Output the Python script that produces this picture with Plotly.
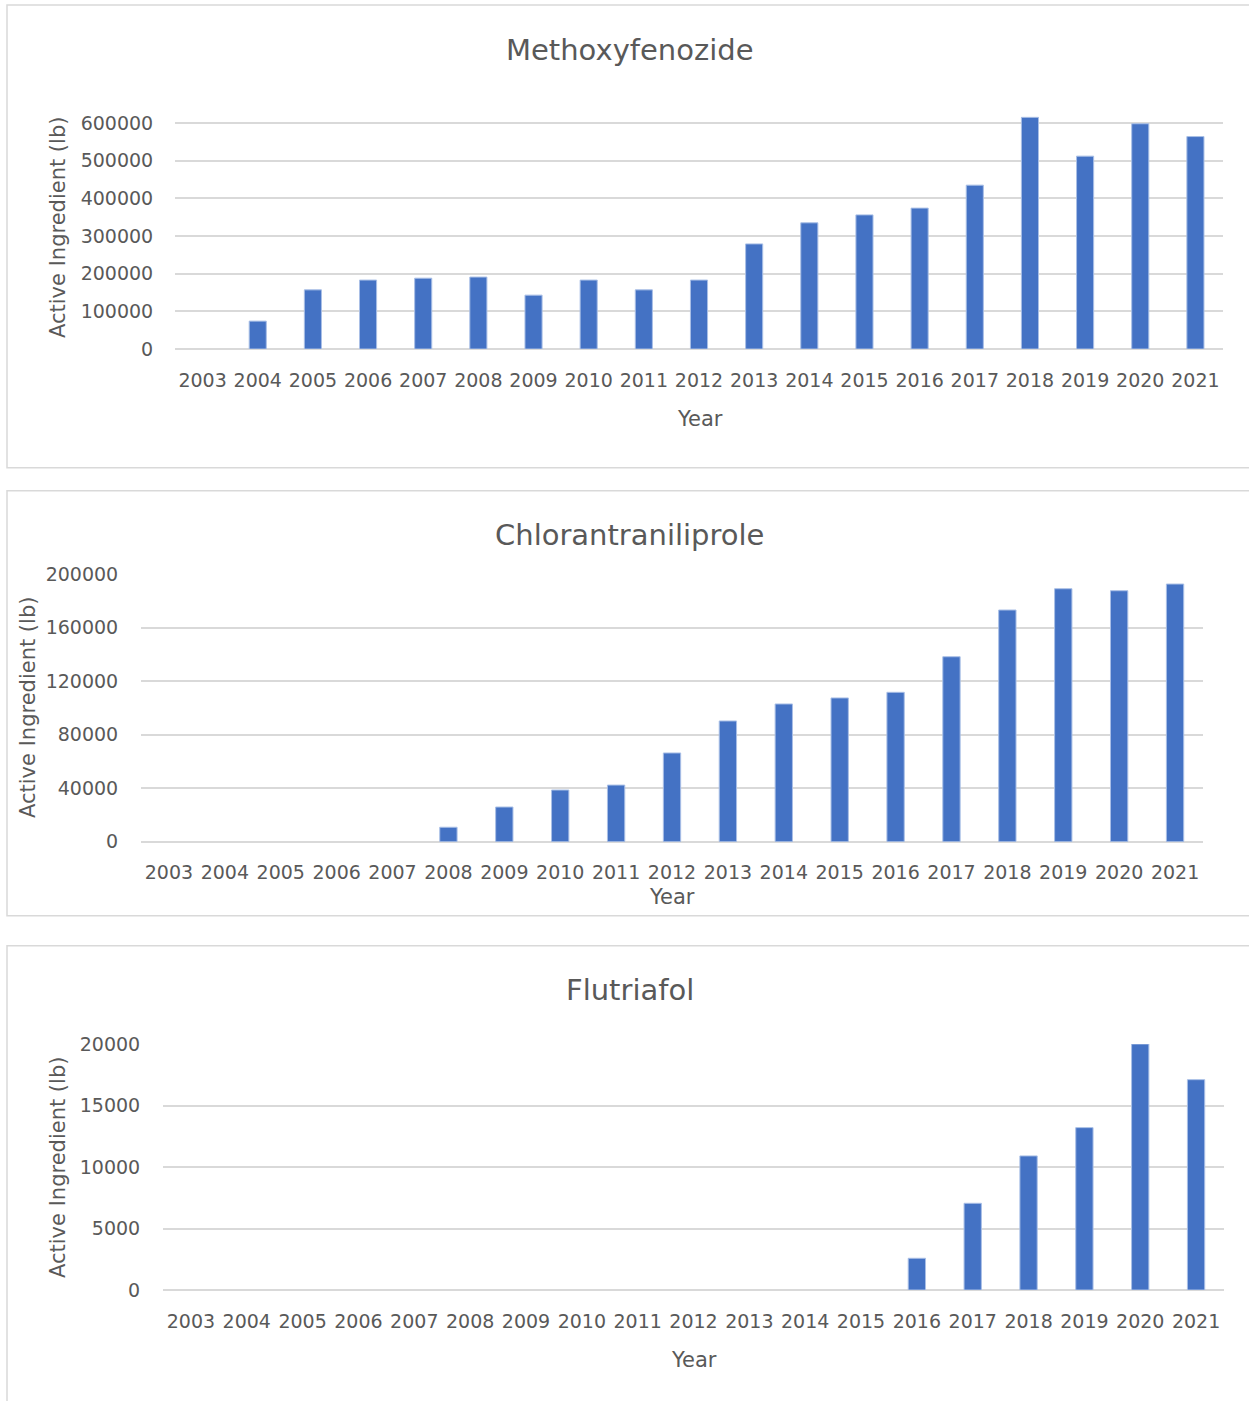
import plotly.graph_objects as go

W, H = 1249, 1401

years = [str(y) for y in range(2003, 2022)]

methoxyfenozide = [None, 74000, 157000, 183000, 188000, 191000, 143000, 183000, 157000,
                   183000, 279000, 335000, 356000, 374000, 435000, 615000, 512000, 598000, 564000]
chlorantraniliprole = [None, None, None, None, None, 10800, 25900, 38600, 42300, 66300,
                       90200, 102900, 107400, 111600, 138200, 173100, 189000, 187500, 192500]
flutriafol = [None, None, None, None, None, None, None, None, None, None, None, None, None,
              2580, 7050, 10900, 13200, 20000, 17100]

titles = ["Methoxyfenozide", "Chlorantraniliprole", "Flutriafol"]
y_title = "Active Ingredient (lb)"
x_title = "Year"

BAR = "#4472C4"
GRID = "#D9D9D9"
TXT = "#595959"
FONT = "'DejaVu Sans', sans-serif"


def px(x):
    return x / W


def py(y):
    return 1 - y / H


charts = [
    dict(vals=methoxyfenozide, x0=175, x1=1223, y0=349, yref=123, ref=600000, rmax=640000, dtick=100000,
         title_xy=(630, 50), ytitle_xy=(58, 228), xtitle_xy=(700, 419), ylen=17, xlen=14),
    dict(vals=chlorantraniliprole, x0=141, x1=1203, y0=841.7, yref=574, ref=200000, rmax=200000, dtick=40000,
         title_xy=(629, 535), ytitle_xy=(28, 708), xtitle_xy=(672, 897), ylen=18, xlen=13),
    dict(vals=flutriafol, x0=163, x1=1224, y0=1290, yref=1044, ref=20000, rmax=20000, dtick=5000,
         title_xy=(630, 990), ytitle_xy=(58, 1168), xtitle_xy=(694, 1360), ylen=18, xlen=14),
]

fig = go.Figure()
layout = dict(
    width=W, height=H, margin=dict(l=0, r=0, t=0, b=0, pad=0, autoexpand=False),
    paper_bgcolor="white", plot_bgcolor="white",
    showlegend=False, bargap=0.69,
    font=dict(family=FONT, color=TXT, size=19),
)
annotations = []
shapes = []

panels = [(5, 467.7), (490.7, 915.7), (945.7, 1420)]
for (t, b) in panels:
    shapes.append(dict(type="rect", xref="paper", yref="paper",
                       x0=px(7), x1=px(1260), y0=py(b), y1=py(t),
                       line=dict(color=GRID, width=1.5), fillcolor="rgba(0,0,0,0)", layer="below"))

for i, c in enumerate(charts, start=1):
    xa = "x" if i == 1 else f"x{i}"
    ya = "y" if i == 1 else f"y{i}"
    fig.add_trace(go.Bar(x=years, y=c["vals"], xaxis=xa, yaxis=ya,
                         marker=dict(color=BAR, line=dict(color="#A9BFE6", width=1)),
                         hoverinfo="x+y"))
    scale = (c["y0"] - c["yref"]) / c["ref"]
    ytop = c["y0"] - c["rmax"] * scale
    xkey = "xaxis" if i == 1 else f"xaxis{i}"
    ykey = "yaxis" if i == 1 else f"yaxis{i}"
    layout[xkey] = dict(type="category", domain=[px(c["x0"]), px(c["x1"])], anchor=ya,
                        showgrid=False, showline=False, zeroline=False, automargin=False,
                        ticks="outside", ticklen=c["xlen"], tickcolor="rgba(0,0,0,0)",
                        tickfont=dict(size=19, color=TXT, family=FONT), fixedrange=True)
    layout[ykey] = dict(domain=[py(c["y0"]), py(ytop)], anchor=xa,
                        range=[0, c["rmax"]], tick0=0, dtick=c["dtick"], automargin=False,
                        showgrid=True, gridcolor=GRID, gridwidth=1.5,
                        zeroline=True, zerolinecolor=GRID, zerolinewidth=1.5,
                        showline=False, ticks="outside", ticklen=c["ylen"],
                        tickcolor="rgba(0,0,0,0)", tickformat="d",
                        tickfont=dict(size=19, color=TXT, family=FONT), fixedrange=True)
    tx, ty = c["title_xy"]
    annotations.append(dict(text=titles[i - 1], x=px(tx), y=py(ty), xref="paper", yref="paper",
                            xanchor="center", yanchor="middle", showarrow=False,
                            font=dict(size=29, color=TXT, family=FONT)))
    yx, yy = c["ytitle_xy"]
    annotations.append(dict(text=y_title, x=px(yx), y=py(yy), xref="paper", yref="paper",
                            xanchor="center", yanchor="middle", showarrow=False, textangle=-90,
                            font=dict(size=21, color=TXT, family=FONT)))
    xx, xy = c["xtitle_xy"]
    annotations.append(dict(text=x_title, x=px(xx), y=py(xy), xref="paper", yref="paper",
                            xanchor="center", yanchor="middle", showarrow=False,
                            font=dict(size=21, color=TXT, family=FONT)))

layout["annotations"] = annotations
layout["shapes"] = shapes
fig.update_layout(**layout)

fig.write_html("out.html", config={"displayModeBar": False},
               post_script="document.body.style.margin='0'; document.body.style.overflow='hidden';")
